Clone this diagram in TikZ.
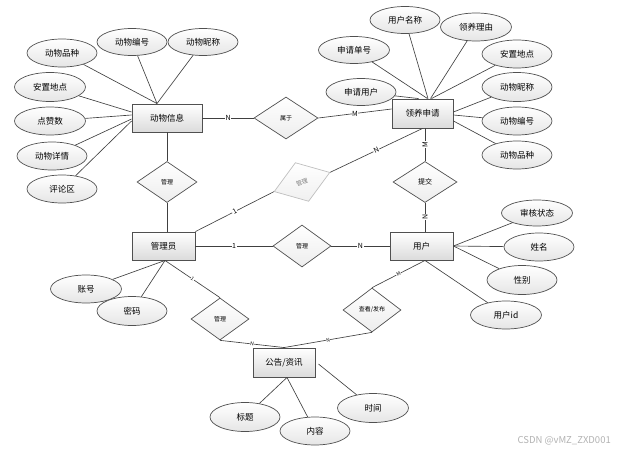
\documentclass[tikz,border=0pt]{standalone}
\usepackage{fontspec}
\setmainfont{Noto Sans CJK SC}
\usetikzlibrary{shapes.geometric,shadows}
\definecolor{edgegray}{HTML}{505050}
\definecolor{linegray}{HTML}{404040}
\begin{document}
\begin{tikzpicture}[x=1pt,y=-1pt,
  entity/.style={draw=edgegray, line width=0.9pt, top color=white, bottom color=black!14,
    minimum width=62pt, minimum height=29pt, inner sep=0pt,
    font=\fontsize{8.5}{9}\selectfont,
    drop shadow={shadow xshift=1.2pt, shadow yshift=-1.2pt, fill=black, opacity=0.2}},
  attr/.style={ellipse, draw=edgegray, line width=0.7pt, top color=white, bottom color=black!10,
    minimum width=70pt, minimum height=28pt, inner sep=0pt, font=\fontsize{8.5}{9}\selectfont},
  rel/.style={diamond, draw=edgegray, line width=0.7pt, top color=white, bottom color=black!7,
    minimum width=58pt, minimum height=42pt, inner sep=0pt, font=\fontsize{6}{7}\selectfont},
  ghost/.style={diamond, draw=black!25, line width=0.7pt, top color=white, bottom color=black!6,
    minimum width=59pt, minimum height=41pt, inner sep=0pt, text=black!50, font=\fontsize{6}{7}\selectfont},
  conn/.style={draw=linegray, line width=0.65pt},
  card/.style={fill=white, inner sep=0.6pt, font=\fontsize{7}{7}\selectfont},
  smallcard/.style={fill=white, inner sep=0.4pt, font=\fontsize{5}{5}\selectfont},
]
\useasboundingbox (0,0) rectangle (626,452);

% entities
\node[entity, minimum width=70pt, minimum height=28pt] (A) at (167,118) {动物信息};
\node[entity, minimum width=61pt] (B) at (422.5,113.5) {领养申请};
\node[entity, minimum width=63pt, minimum height=28pt] (C) at (163.5,246) {管理员};
\node[entity, minimum width=63pt, minimum height=28pt] (D) at (421.5,246) {用户};
\node[entity] (E) at (284,362.5) {公告/资讯};

% relationships
\node[rel, minimum width=64pt] (R1) at (286,118) {属于};
\node[ghost, rotate=19] (Rg) at (302,182) {管理};
\node[rel, minimum width=60pt, minimum height=41pt] (R2) at (167,182) {管理};
\node[rel] (R3) at (302,246) {管理};
\node[rel, minimum width=64pt, minimum height=41pt, font=\fontsize{7}{8}\selectfont] (R4) at (425,182) {提交};
\node[rel] (R5) at (220,319) {管理};
\node[rel, minimum height=44pt] (R6) at (372,310) {查看/发布};

% attributes of 动物信息
\node[attr] (A1) at (62,53) {动物品种};
\node[attr, minimum height=27pt] (A2) at (132,42) {动物编号};
\node[attr, minimum height=27pt] (A3) at (203,42) {动物昵称};
\node[attr, minimum width=71pt, minimum height=29pt] (A4) at (50,87) {安置地点};
\node[attr, minimum width=71pt] (A5) at (50,121) {点赞数};
\node[attr] (A6) at (52,156) {动物详情};
\node[attr] (A7) at (62,189) {评论区};

% attributes of 领养申请
\node[attr, minimum width=71pt, minimum height=27pt] (B1) at (354,50) {申请单号};
\node[attr, minimum height=27pt] (B2) at (405,20) {用户名称};
\node[attr, minimum width=71pt] (B3) at (476,27) {领养理由};
\node[attr] (B4) at (517,54) {安置地点};
\node[attr, minimum height=27pt] (B5) at (361,92) {申请用户};
\node[attr, minimum height=29pt] (B6) at (517,87) {动物昵称};
\node[attr] (B7) at (517,121) {动物编号};
\node[attr] (B8) at (517,155) {动物品种};

% attributes of 用户
\node[attr, minimum width=71pt, minimum height=26pt] (D1) at (537,213) {审核状态};
\node[attr] (D2) at (539,247) {姓名};
\node[attr, minimum height=29pt] (D3) at (522,280) {性别};
\node[attr, minimum width=71pt] (D4) at (506,315) {用户id};

% attributes of 管理员
\node[attr, minimum width=71pt] (C1) at (86,289) {账号};
\node[attr, minimum height=29pt] (C2) at (132,311) {密码};

% attributes of 公告/资讯
\node[attr, minimum height=29pt] (E1) at (245,417) {标题};
\node[attr] (E2) at (315,431) {内容};
\node[attr, minimum width=71pt, minimum height=29pt] (E3) at (373,408) {时间};

% attribute connectors
\draw[conn] (A1) -- ([xshift=-10pt]A.north);
\draw[conn] (A2) -- ([xshift=-10pt]A.north);
\draw[conn] (A3) -- ([xshift=-10pt]A.north);
\draw[conn] (A4) -- ([yshift=6pt]A.west);
\draw[conn] (A5) -- ([yshift=3pt]A.west);
\draw[conn] (A6) -- ([yshift=-1pt]A.west);
\draw[conn] (A7) -- ([yshift=-3pt]A.west);

\draw[conn] (B1) -- ([xshift=5pt]B.north);
\draw[conn] (B2) -- ([xshift=5.5pt]B.north);
\draw[conn] (B3) -- ([xshift=8pt]B.north);
\draw[conn] (B4) -- ([xshift=9pt]B.north);
\draw[conn] (B5) -- ([xshift=-4pt]B.north);
\draw[conn] (B6) -- ([yshift=1.5pt]B.east);
\draw[conn] (B7) -- ([yshift=-1.5pt]B.east);
\draw[conn] (B8) -- ([yshift=-7.5pt]B.east);

\draw[conn] (D1) -- (D.east);
\draw[conn] (D2) -- (D.east);
\draw[conn] (D3) -- (D.east);
\draw[conn] (D4) -- ([xshift=3.5pt]D.south);

\draw[conn] (C1) -- ([xshift=1.5pt]C.south);
\draw[conn] (C2) -- ([xshift=1.5pt]C.south);

\draw[conn] (E1) -- ([xshift=3pt]E.south);
\draw[conn] (E2) -- ([xshift=3pt]E.south);
\coordinate (Eright) at ([xshift=3pt,yshift=-1.5pt]E.east);
\draw[conn] (E3) -- (Eright);

% relationship connectors
\draw[conn] (A.east) -- node[card] {N} (R1.west);
\draw[conn] (R1.east) -- node[card] {M} ([yshift=4.5pt]B.west);
\draw[conn] ([xshift=2.5pt]B.south) -- node[card, rotate=90] {M} (R4.north);
\draw[conn] (B.south) -- node[card, sloped] {N} (Rg.east);
\draw[conn] (Rg.west) -- node[card, sloped] {1} (C.north east);
\draw[conn] (R4.south) -- node[card, rotate=90] {N} ([xshift=3.5pt]D.north);
\draw[conn] (A.south) -- (R2.north);
\draw[conn] (R2.south) -- ([xshift=3.5pt]C.north);
\draw[conn] (C.east) -- node[card] {1} (R3.west);
\draw[conn] (R3.east) -- node[card] {N} (D.west);
\draw[conn] ([xshift=1.5pt]C.south) -- node[smallcard, sloped] {1} (R5.north);
\draw[conn] (R5.south) -- node[smallcard, sloped] {N} (E.north);
\draw[conn] (R6.south) -- node[smallcard, sloped] {N} (E.north);
\draw[conn] (R6.north) -- node[smallcard, sloped] {M} ([xshift=3.5pt]D.south);

% watermark
\node[text=black!30, font=\fontsize{9.5}{10}\selectfont, anchor=east, inner sep=0pt] (wm) at (611,441) {CSDN @vMZ\_ZXD001};
\end{tikzpicture}
\end{document}
